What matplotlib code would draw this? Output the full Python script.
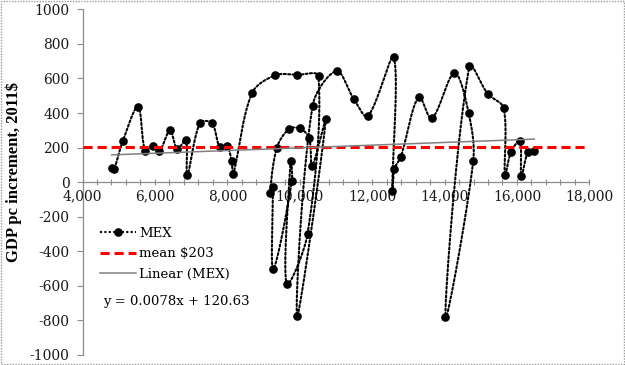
import numpy as np
import matplotlib
matplotlib.use('Agg')
import matplotlib.pyplot as plt
from matplotlib.lines import Line2D
from matplotlib.patches import Rectangle
from matplotlib.ticker import FuncFormatter, MultipleLocator

# ─── Data (GDP pc level, yearly increment) ───────────────────────────────────
gdp_pc = [4806, 4869, 5110, 5532, 5733, 5954, 6120, 6415, 6616, 6857,
          6892, 7243, 7574, 7795, 7996, 8118, 8162, 8678, 9313, 9920,
          10519, 10216, 9636, 9746, 9782, 9266, 9250, 9175, 9368, 9699,
          10003, 10260, 10342, 10721, 9928, 10354, 11016, 11493, 11880, 12597,
          12556, 12617, 12791, 13287, 13646, 14273, 14667, 14792, 14024, 14685,
          15192, 15633, 15669, 15835, 16083, 16122, 16304, 16481]
increment = [83, 74, 236, 436, 179, 212, 178, 299, 193, 243,
             39, 342, 342, 201, 208, 120, 46, 514, 618, 621,
             612, -299, -587, 120, 4, -502, -27, -65, 199, 307,
             311, 255, 94, 363, -776, 442, 643, 481, 382, 722,
             -52, 78, 146, 494, 369, 631, 398, 122, -783, 670,
             511, 428, 41, 175, 239, 36, 175, 181]
mean_inc = 203
slope, intercept = 0.0078, 120.63

XMIN, XMAX, YMIN, YMAX = 4000, 18000, -1000, 1000

plt.rcParams['font.family'] = ['DejaVu Serif']
FS = 10
LFS = 9.5

fig = plt.figure(figsize=(6.25, 3.65), dpi=100)
ax = fig.add_axes([0.132, 0.0274, 0.811, 0.947])
ax.set_xlim(XMIN, XMAX)
ax.set_ylim(YMIN, YMAX)

# ─── smoothed line (Excel-style bezier, tangents weighted by segment length) ─
W = 0.811 * 625
H = 0.947 * 365
u = (np.array(gdp_pc) - XMIN) / (XMAX - XMIN) * W
v = (np.array(increment) - YMIN) / (YMAX - YMIN) * H
P = np.column_stack([u, v])
n = len(P)
t = np.linspace(0, 1, 30)[:, None]
segs = []
for i in range(n - 1):
    p0 = P[max(i - 1, 0)]
    p1, p2 = P[i], P[i + 1]
    p3 = P[min(i + 2, n - 1)]
    l01 = np.linalg.norm(p1 - p0)
    l12 = np.linalg.norm(p2 - p1)
    l23 = np.linalg.norm(p3 - p2)
    b1 = p1 + (p2 - p0) * (l12 / (l01 + l12) / 3 if l01 + l12 > 0 else 0)
    b2 = p2 - (p3 - p1) * (l12 / (l12 + l23) / 3 if l12 + l23 > 0 else 0)
    seg = ((1 - t) ** 3) * p1 + 3 * ((1 - t) ** 2) * t * b1 + 3 * (1 - t) * t ** 2 * b2 + t ** 3 * p2
    segs.append(seg if i == 0 else seg[1:])
curve = np.vstack(segs)
cx = curve[:, 0] / W * (XMAX - XMIN) + XMIN
cy = curve[:, 1] / H * (YMAX - YMIN) + YMIN

ax.plot(cx, cy, color='black', lw=1.5, linestyle=(0, (1, 1.1)),
        dash_capstyle='round', zorder=3)
ax.plot(gdp_pc, increment, 'o', color='black', ms=5.2, zorder=4)

# mean line
ax.plot([XMIN, XMAX], [mean_inc, mean_inc], color='#ff0000', lw=2.2,
        linestyle=(0, (3, 1.6)), zorder=5)

# linear trend
tx = np.array([min(gdp_pc), max(gdp_pc)])
ax.plot(tx, slope * tx + intercept, color='#808080', lw=1.1, zorder=6)

# ─── axes styling ────────────────────────────────────────────────────────────
for s in ['top', 'right']:
    ax.spines[s].set_visible(False)
ax.spines['bottom'].set_position(('data', 0))
for s in ['left', 'bottom']:
    ax.spines[s].set_color('#8c8c8c')
    ax.spines[s].set_linestyle((0, (1, 1)))
    ax.spines[s].set_linewidth(0.9)

ax.xaxis.set_major_locator(MultipleLocator(2000))
ax.xaxis.set_minor_locator(MultipleLocator(400))
ax.yaxis.set_major_locator(MultipleLocator(200))
ax.xaxis.set_major_formatter(FuncFormatter(lambda v, p: f'{int(v):,}'))
ax.yaxis.set_major_formatter(FuncFormatter(lambda v, p: f'{int(v)}'))
ax.tick_params(axis='x', which='both', direction='inout', length=4.3,
               color='#8c8c8c', width=0.8, labelsize=FS, pad=3)
ax.tick_params(axis='y', which='major', direction='out', length=4.3,
               color='#8c8c8c', width=0.8, labelsize=FS, pad=5)
for lbl in ax.get_xticklabels() + ax.get_yticklabels():
    lbl.set_color('#1a1a1a')

fig.text(14 / 625, 1 - 172 / 365, 'GDP pc increment, 2011$', rotation=90,
         fontsize=12, fontweight='bold', ha='center', va='center',
         family='Liberation Serif')

# ─── legend ──────────────────────────────────────────────────────────────────
handles = [
    Line2D([], [], color='black', lw=1.5, linestyle=(0, (1, 1.1)),
           marker='o', ms=5.2),
    Line2D([], [], color='#ff0000', lw=2.2, linestyle=(0, (3, 1.6))),
    Line2D([], [], color='#808080', lw=1.1),
]
ax.legend(handles, ['MEX', 'mean $203', 'Linear (MEX)'], loc='upper left',
          bbox_to_anchor=((100 - 82.5) / W, (355 - 227) / H), frameon=False,
          fontsize=LFS, handlelength=2.7, handletextpad=0.25, labelspacing=0.55,
          borderpad=0, borderaxespad=0, markerscale=1.0)
fig.text(103 / 625, 1 - 301 / 365, 'y = 0.0078x + 120.63', fontsize=LFS,
         ha='left', va='center')

fig.patches.append(Rectangle((0.001, 0.002), 0.997, 0.996,
                             transform=fig.transFigure, fill=False,
                             ec='#9a9a9a', lw=1.0, ls=(0, (1, 1))))

fig.savefig('out.png', dpi=100)
